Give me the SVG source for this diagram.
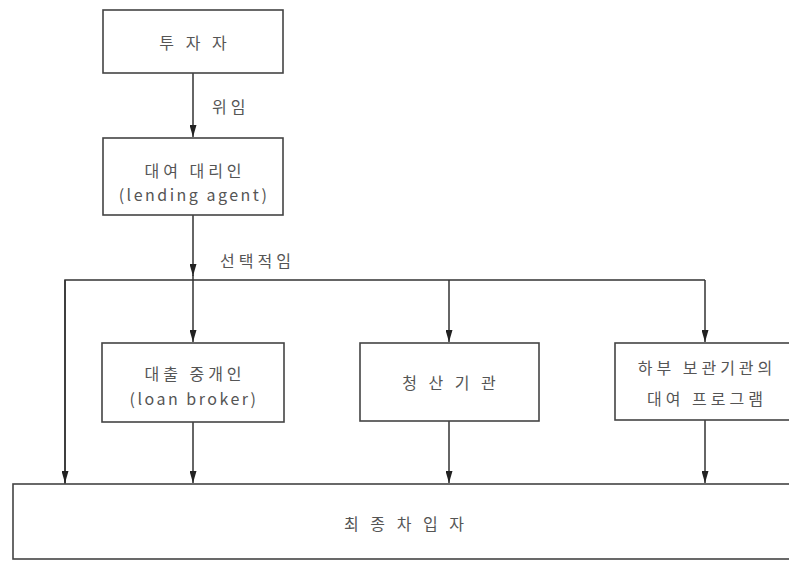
<svg xmlns="http://www.w3.org/2000/svg" width="789" height="561" viewBox="0 0 789 561">
<style>
.box{fill:#fff;stroke:#444;stroke-width:1.6}
.t{font-family:"Noto Sans CJK KR","Liberation Sans",sans-serif;font-size:16px;fill:#555;text-anchor:middle;dominant-baseline:central;letter-spacing:4px}
.e{letter-spacing:2.5px}
.l{font-family:"Noto Sans CJK KR","Liberation Sans",sans-serif;font-size:16px;fill:#555;dominant-baseline:central;letter-spacing:4px}
.c{fill:none;stroke:#333;stroke-width:1.5}
</style>
<defs>
<marker id="ah" markerWidth="12" markerHeight="7" refX="12" refY="3.5" orient="auto" markerUnits="userSpaceOnUse" viewBox="0 0 12 7">
<path d="M0,0 L12,3.5 L0,7 Z" fill="#222"/>
</marker>
</defs>
<rect width="789" height="561" fill="#fff"/>
<g id="connectors">
<line class="c" x1="193" y1="73" x2="193" y2="137" marker-end="url(#ah)"/>
<line class="c" x1="193" y1="215" x2="193" y2="276" marker-end="url(#ah)"/>
<polyline class="c" points="65,484 65,280 705,280"/>
<line class="c" x1="65" y1="280" x2="65" y2="483" marker-end="url(#ah)"/>
<line class="c" x1="193" y1="275" x2="193" y2="342" marker-end="url(#ah)"/>
<line class="c" x1="449" y1="280" x2="449" y2="342" marker-end="url(#ah)"/>
<line class="c" x1="705" y1="280" x2="705" y2="342" marker-end="url(#ah)"/>
<line class="c" x1="193" y1="422" x2="193" y2="483" marker-end="url(#ah)"/>
<line class="c" x1="449" y1="421" x2="449" y2="483" marker-end="url(#ah)"/>
<line class="c" x1="705" y1="420" x2="705" y2="483" marker-end="url(#ah)"/>
<text class="l" x="212" y="106">위임</text>
<text class="l" x="220" y="260">선택적임</text>
</g>
<g id="investor">
<rect class="box" x="103" y="10" width="180" height="63"/>
<text class="t" x="195" y="42">투 자 자</text>
</g>
<g id="lending-agent">
<rect class="box" x="103" y="138" width="180" height="77"/>
<text class="t" x="195" y="170">대여 대리인</text>
<text class="t e" x="194" y="194">(lending agent)</text>
</g>
<g id="loan-broker">
<rect class="box" x="102" y="343" width="182" height="79"/>
<text class="t" x="195" y="373">대출 중개인</text>
<text class="t e" x="194" y="398">(loan broker)</text>
</g>
<g id="clearing">
<rect class="box" x="360" y="343" width="179" height="78"/>
<text class="t" x="451" y="382">청 산 기 관</text>
</g>
<g id="sub-custodian">
<rect class="box" x="615" y="343" width="180" height="77"/>
<text class="t" x="707" y="367">하부 보관기관의</text>
<text class="t" x="707" y="398">대여 프로그램</text>
</g>
<g id="final-borrower">
<rect class="box" x="13" y="484" width="790" height="75"/>
<text class="t" x="406" y="523">최 종 차 입 자</text>
</g>
</svg>
